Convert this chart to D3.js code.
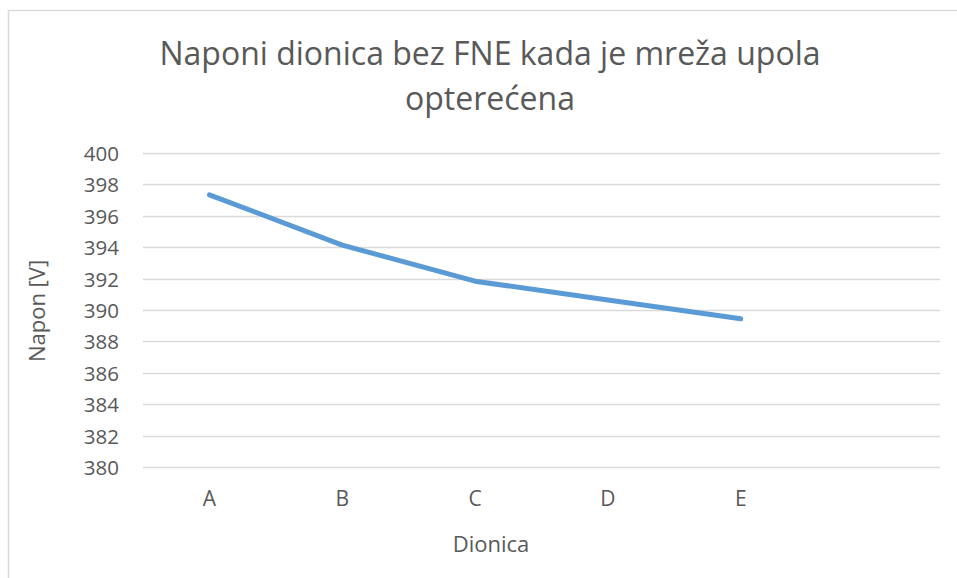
<!DOCTYPE html>
<html>
<head>
<meta charset="utf-8">
<script src="https://cdn.jsdelivr.net/npm/d3@7"></script>
<style>
  body { margin: 0; background: #fff; }
  text { font-family: "Open Sans", sans-serif; fill: #595959; }
</style>
</head>
<body>
<svg id="chart" width="957" height="578"></svg>
<script>
// data
var categories = ["A", "B", "C", "D", "E", ""];
var voltages = [397.4, 394.2, 391.9, 390.7, 389.5];
var yTicks = [380, 382, 384, 386, 388, 390, 392, 394, 396, 398, 400];
var titleLines = ["Naponi dionica bez FNE kada je mreža upola", "opterećena"];

var svg = d3.select("#chart"),
    width = 957,
    height = 578,
    plotLeft = 143,
    plotRight = 940,
    plotTop = 154,
    plotBottom = 468;

// chart frame (cropped on right/bottom)
svg.append("path")
    .attr("d", "M8.5," + height + "V10.5H" + width)
    .attr("fill", "none")
    .attr("stroke", "#d9d9d9")
    .attr("stroke-width", 1.5);

var x = d3.scaleBand().domain(categories).range([plotLeft, plotRight]);
var y = d3.scaleLinear().domain([380, 400]).range([plotBottom, plotTop]);

// gridlines
svg.append("g")
    .selectAll("line")
    .data(yTicks)
    .enter().append("line")
    .attr("x1", plotLeft)
    .attr("x2", plotRight)
    .attr("y1", function(d) { return Math.round(y(d)) - 0.5; })
    .attr("y2", function(d) { return Math.round(y(d)) - 0.5; })
    .attr("stroke", "#d9d9d9")
    .attr("stroke-width", 1.3);

// y axis labels
var yAxis = svg.append("g")
    .attr("transform", "translate(119,0)")
    .call(d3.axisLeft(y).tickValues(yTicks).tickSize(0).tickPadding(0));
yAxis.select(".domain").remove();
yAxis.selectAll("text")
    .style("font-size", "20.5px")
    .style("font-family", "'Open Sans', sans-serif")
    .attr("fill", "#595959");

// x axis labels
var xAxis = svg.append("g")
    .attr("transform", "translate(0,491)")
    .call(d3.axisBottom(x).tickSize(0).tickPadding(0));
xAxis.select(".domain").remove();
xAxis.selectAll("text")
    .style("font-size", "21px")
    .style("font-family", "'Open Sans', sans-serif")
    .attr("fill", "#595959");

// line
var line = d3.line()
    .x(function(d, i) { return x(categories[i]) + x.bandwidth() / 2; })
    .y(function(d) { return y(d); });

svg.append("path")
    .datum(voltages)
    .attr("d", line)
    .attr("fill", "none")
    .attr("stroke", "#5b9bd5")
    .attr("stroke-width", 5)
    .attr("stroke-linecap", "round")
    .attr("stroke-linejoin", "round");

// title
svg.append("g")
    .selectAll("text")
    .data(titleLines)
    .enter().append("text")
    .attr("x", 490)
    .attr("y", function(d, i) { return 65 + i * 45; })
    .attr("text-anchor", "middle")
    .style("font-size", "32px")
    .text(function(d) { return d; });

// axis titles
svg.append("text")
    .attr("transform", "translate(45,311) rotate(-90)")
    .attr("text-anchor", "middle")
    .style("font-size", "22px")
    .text("Napon [V]");

svg.append("text")
    .attr("x", 491)
    .attr("y", 552)
    .attr("text-anchor", "middle")
    .style("font-size", "22px")
    .text("Dionica");
</script>
</body>
</html>
